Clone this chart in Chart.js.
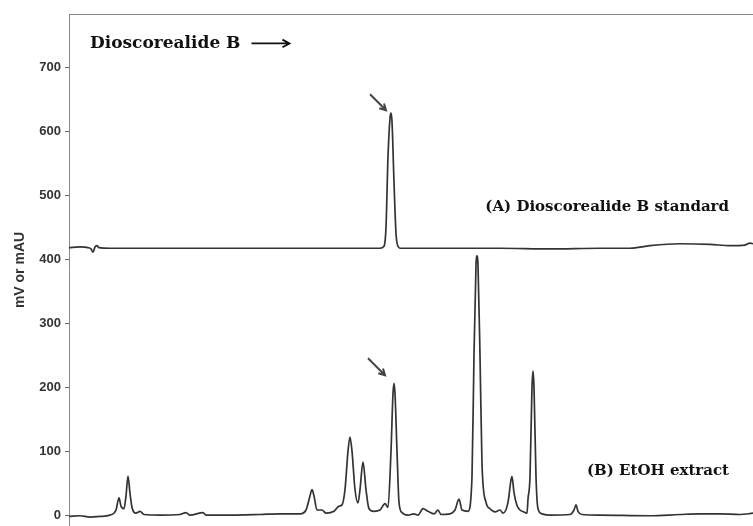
<!DOCTYPE html>
<html>
<head>
<meta charset="utf-8">
<script src="https://cdn.jsdelivr.net/npm/chart.js@4.4.1/dist/chart.umd.min.js"></script>
<style>
  html, body { margin: 0; padding: 0; background: #fff; }
  #wrap { width: 753px; height: 526px; }
</style>
</head>
<body>
<div id="wrap"><canvas id="canvas"></canvas></div>
<script>
// retention time (arbitrary min) and signal (mV or mAU)
var timeA = [0, 1.1, 1.9, 2.2, 2.4, 2.6, 2.8, 3.0, 4.1, 8.1, 13.1, 18.1, 23.1, 28.1, 31.1, 31.5, 31.7, 31.9, 32.1, 32.2, 32.3, 32.5, 32.7, 32.9, 33.1, 38.1, 43.1, 48.1, 53.1, 56.1, 58.1, 61.1, 64.1, 66.1, 67.6, 68.1, 68.4]
var signalA = [418, 419, 418, 416, 411, 419, 421, 418, 417, 417, 417, 417, 417, 417, 417, 420, 450, 560, 620, 628, 615, 520, 440, 420, 417, 417, 417, 416, 417, 417, 421, 424, 423, 421, 422, 425, 424]

var timeB = [0, 1.1, 2.1, 3.1, 4.1, 4.7, 5.0, 5.2, 5.5, 5.7, 5.9, 6.1, 6.3, 6.7, 7.1, 7.5, 9.1, 11.1, 11.7, 12.1, 13.4, 13.7, 16.1, 19.1, 21.1, 23.1, 23.7, 24.1, 24.3, 24.5, 24.8, 25.3, 25.7, 26.5, 27.0, 27.3, 27.6, 27.9, 28.1, 28.3, 28.6, 28.9, 29.1, 29.4, 29.7, 30.0, 30.5, 31.1, 31.6, 31.9, 32.2, 32.4, 32.5, 32.6, 32.8, 33.0, 33.3, 33.9, 34.5, 34.9, 35.4, 35.9, 36.5, 36.9, 37.2, 38.1, 38.6, 39.0, 39.3, 39.9, 40.3, 40.5, 40.7, 40.8, 40.9, 41.1, 41.3, 41.7, 42.1, 42.6, 43.1, 43.4, 43.9, 44.2, 44.3, 44.5, 44.8, 45.1, 45.5, 45.8, 45.9, 46.1, 46.3, 46.4, 46.5, 46.7, 46.9, 47.3, 48.1, 50.1, 50.5, 50.7, 50.9, 51.3, 53.1, 58.1, 61.1, 63.1, 65.1, 67.1, 68.4]
var signalB = [-2, -1, -3, -2, 0, 8, 27, 14, 10, 30, 61, 34, 12, 3, 6, 1, 0, 1, 4, 0, 4, 0, 0, 1, 2, 2, 8, 30, 40, 30, 8, 8, 3, 6, 14, 16, 40, 100, 122, 100, 40, 19, 40, 83, 40, 10, 6, 8, 18, 12, 100, 190, 206, 190, 100, 20, 4, 0, 2, 0, 10, 6, 2, 8, 1, 2, 8, 25, 8, 6, 60, 250, 390, 405, 390, 250, 80, 20, 10, 5, 8, 3, 20, 55, 60, 35, 15, 8, 5, 3, 25, 60, 200, 225, 200, 60, 10, 2, 0, 1, 8, 16, 6, 1, 0, -1, 1, 2, 2, 1, 3]

var yTicks = [0, 100, 200, 300, 400, 500, 600, 700]
var yRange = [-17, 783]
var xRange = [0, 68.4]

var serif = '"DejaVu Serif", "Liberation Serif", serif'
var notes = [
    { text: '(A) Dioscorealide B standard', x: 66.0, y: 481, align: 'right', size: 15 },
    { text: '(B) EtOH extract', x: 66.0, y: 69, align: 'right', size: 15 },
    { text: 'Dioscorealide B', x: 2.1, y: 737, align: 'left', size: 17 }
]

function toPoints(xs, ys) {
    return xs.map(function(x, i) { return { x: x, y: ys[i] } })
}

function arrow(ctx, x1, y1, x2, y2, head) {
    var a = Math.atan2(y2 - y1, x2 - x1)
    ctx.beginPath()
    ctx.moveTo(x1, y1)
    ctx.lineTo(x2, y2)
    ctx.moveTo(x2 - head * Math.cos(a - 0.5), y2 - head * Math.sin(a - 0.5))
    ctx.lineTo(x2, y2)
    ctx.lineTo(x2 - head * Math.cos(a + 0.5), y2 - head * Math.sin(a + 0.5))
    ctx.stroke()
}

var annotations = {
    id: 'annotations',
    afterDraw: function(chart) {
        var ctx = chart.ctx
        var xs = chart.scales.x, ys = chart.scales.y
        var area = chart.chartArea
        ctx.save()
        // top frame line
        ctx.strokeStyle = '#888'
        ctx.lineWidth = 1
        ctx.beginPath()
        ctx.moveTo(area.left, area.top + 0.5)
        ctx.lineTo(area.right, area.top + 0.5)
        ctx.stroke()

        ctx.fillStyle = '#111'
        ctx.textBaseline = 'middle'
        notes.forEach(function(n) {
            ctx.font = 'bold ' + n.size + 'px ' + serif
            ctx.textAlign = n.align
            ctx.fillText(n.text, xs.getPixelForValue(n.x), ys.getPixelForValue(n.y))
        })

        ctx.strokeStyle = '#111'
        ctx.lineWidth = 1.8
        // arrow after the title text
        var t = notes[2]
        ctx.font = 'bold ' + t.size + 'px ' + serif
        var tx = xs.getPixelForValue(t.x) + ctx.measureText(t.text).width + 11
        var ty = ys.getPixelForValue(t.y)
        arrow(ctx, tx, ty, tx + 38, ty, 8)

        // arrows pointing to the dioscorealide B peaks
        ctx.strokeStyle = '#444'
        ctx.lineWidth = 2
        var ia = signalA.indexOf(Math.max.apply(null, signalA))
        var pxA = xs.getPixelForValue(timeA[ia]), pyA = ys.getPixelForValue(signalA[ia])
        arrow(ctx, pxA - 21, pyA - 19, pxA - 5, pyA - 3, 7)
        var ib = signalB.indexOf(206)
        var pxB = xs.getPixelForValue(timeB[ib]), pyB = ys.getPixelForValue(signalB[ib])
        arrow(ctx, pxB - 26, pyB - 25, pxB - 9, pyB - 8, 7)
        ctx.restore()
    }
}

var ctx = document.getElementById('canvas').getContext('2d')
var chart = new Chart(ctx, {
    type: 'line',
    data: {
        datasets: [{
            label: 'Dioscorealide B standard',
            data: toPoints(timeA, signalA),
            borderColor: '#333',
            borderWidth: 1.7,
            pointRadius: 0,
            cubicInterpolationMode: 'monotone'
        }, {
            label: 'EtOH extract',
            data: toPoints(timeB, signalB),
            borderColor: '#333',
            borderWidth: 1.7,
            pointRadius: 0,
            cubicInterpolationMode: 'monotone'
        }]
    },
    plugins: [annotations],
    options: {
        responsive: true,
        maintainAspectRatio: false,
        animation: false,
        layout: { padding: { top: 14, right: 0, bottom: 0, left: 0 } },
        plugins: { legend: { display: false }, tooltip: { enabled: false } },
        scales: {
            x: {
                type: 'linear',
                display: false,
                min: xRange[0],
                max: xRange[1]
            },
            y: {
                min: yRange[0],
                max: yRange[1],
                afterFit: function(scale) {
                    scale.width = 69
                    scale.paddingTop = 0
                    scale.paddingBottom = 0
                },
                afterBuildTicks: function(scale) {
                    scale.ticks = yTicks.map(function(v) { return { value: v } })
                },
                border: { display: true, color: '#888', width: 1 },
                grid: { drawOnChartArea: false, drawTicks: true, tickLength: 4, color: '#666' },
                ticks: {
                    color: '#333',
                    padding: 4,
                    font: { family: '"Liberation Sans", Arial, sans-serif', size: 13, weight: 'bold' }
                },
                title: {
                    display: true,
                    text: 'mV or mAU',
                    color: '#333',
                    padding: { top: 12, bottom: 0 },
                    font: { family: '"Liberation Sans", Arial, sans-serif', size: 14, weight: 'bold' }
                }
            }
        }
    }
})
</script>
</body>
</html>
